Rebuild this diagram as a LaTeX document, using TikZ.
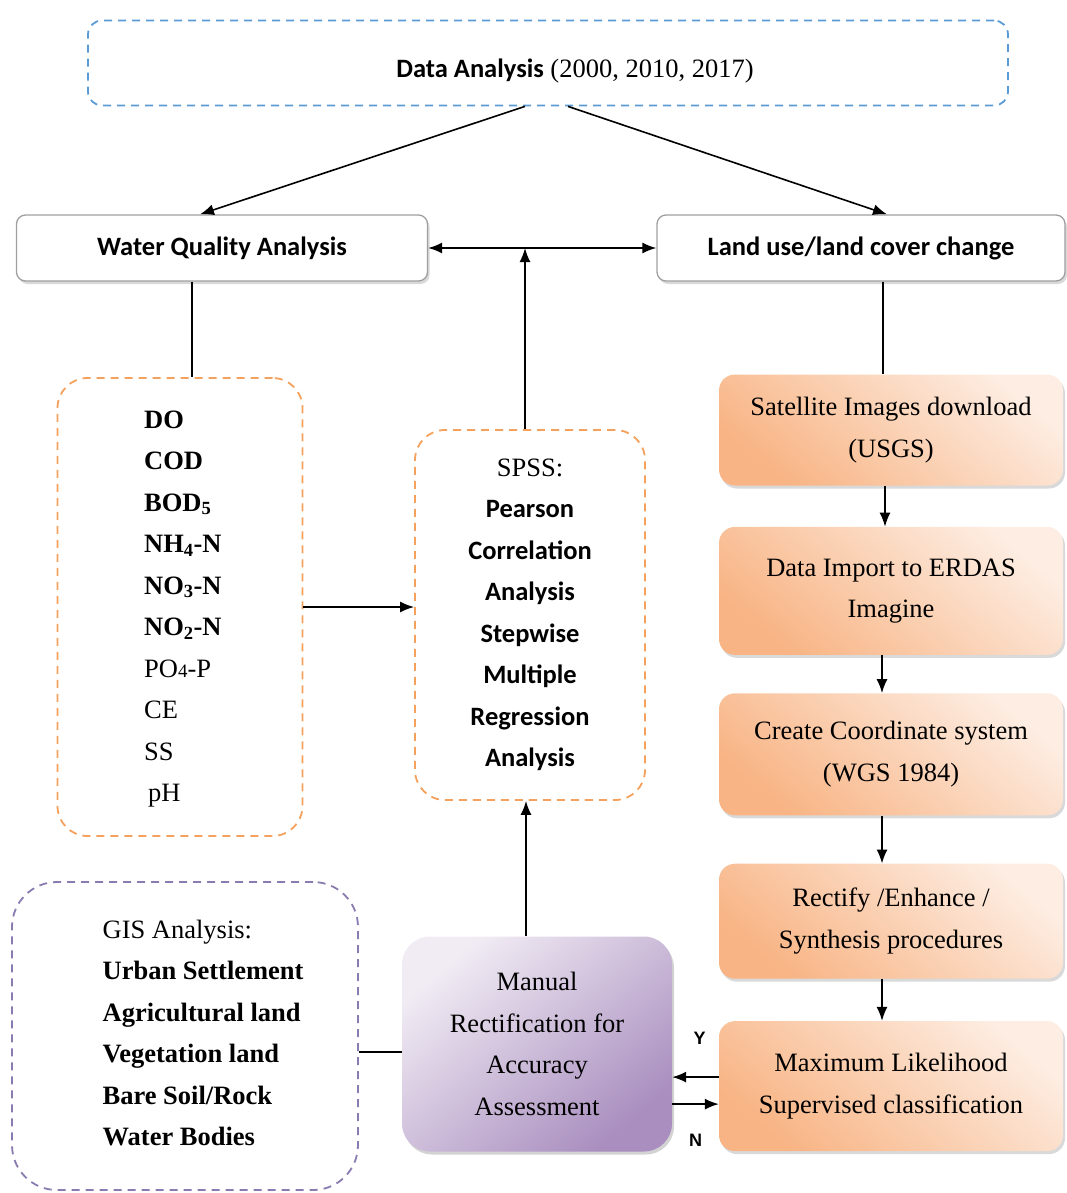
\documentclass[tikz,border=0pt]{standalone}
\usepackage{fontspec}
\setmainfont{Liberation Serif}
\newfontfamily\calibri{Carlito}
\newfontfamily\arialfont{Liberation Sans}
\usepackage{tikz}
\usetikzlibrary{arrows.meta, positioning, shadows}

\definecolor{dashblue}{HTML}{5B9BD5}
\definecolor{dashorange}{HTML}{F4A15D}
\definecolor{dashpurple}{HTML}{8A7BB0}
\definecolor{peachlight}{HTML}{FDEDE2}
\definecolor{peachdark}{HTML}{F8B484}
\definecolor{lilaclight}{HTML}{F1ECF4}
\definecolor{lilacdark}{HTML}{A98EBF}
\newcommand{\boxfont}{\fontsize{26.5}{41.5}\selectfont}

\begin{document}
\begin{tikzpicture}[x=1pt, y=-1pt, >={Latex[length=14pt, width=11pt]},
    line/.style={line width=1.6pt},
    dashbox/.style={draw, dash pattern=on 8pt off 6pt, line width=1.8pt, rounded corners=30pt},
    titlebox/.style={draw=gray!75, line width=1.3pt, rounded corners=9pt, fill=white,
        drop shadow={opacity=0.3, shadow xshift=2pt, shadow yshift=-3pt},
        minimum height=66pt, font=\calibri\bfseries\boxfont},
    stepbox/.style={rounded corners=16pt, top color=peachlight, bottom color=peachdark,
        shading angle=-40, drop shadow={opacity=0.3, shadow xshift=2pt, shadow yshift=-3pt},
        minimum width=344pt, align=center, font=\boxfont},
    checkbox/.style={rounded corners=28pt, top color=lilaclight, bottom color=lilacdark,
        shading angle=40, drop shadow={opacity=0.35, shadow xshift=2pt, shadow yshift=-3pt},
        align=center, font=\boxfont},
    yn/.style={font=\arialfont\bfseries\fontsize{18}{18}\selectfont}]

    \useasboundingbox (0,0) rectangle (1067,1193);

    % Nodes
    \node [dashbox, draw=dashblue, rounded corners=14pt, minimum width=920pt, minimum height=85pt,
        text height=30pt, text depth=0pt, font=\boxfont] (top) at (548,63)
        {\hspace*{54pt}{\calibri\bfseries Data Analysis} (2000, 2010, 2017)};
    \node [titlebox, minimum width=411pt] (wqa) at (222,248) {Water Quality Analysis};
    \node [titlebox, minimum width=408pt] (lulc) at (861,248) {Land use/land cover change};

    \node [dashbox, draw=dashorange, minimum width=245pt, minimum height=458pt] (wqbox) at (180,607) {};
    \node [anchor=west, align=left, font=\boxfont] (wqlist) at ([xshift=84pt, yshift=-2pt]wqbox.west)
        {\textbf{DO}\\ \textbf{COD}\\ \textbf{BOD\textsubscript{5}}\\ \textbf{NH\textsubscript{4}-N}\\
         \textbf{NO\textsubscript{3}-N}\\ \textbf{NO\textsubscript{2}-N}\\ PO{\fontsize{19}{19}\selectfont 4}-P\\
         CE\\ SS\\ \hspace*{4pt}pH};

    \node [dashbox, draw=dashorange, minimum width=230pt, minimum height=370pt, align=center,
        font=\calibri\bfseries\boxfont] (spss) at (530,615)
        {{\rmfamily\mdseries SPSS:}\\ Pearson\\ Correlation\\ Analysis\\ Stepwise\\ Multiple\\ Regression\\ Analysis};

    \node [stepbox, minimum height=111pt] (sat) at (891,430) {Satellite Images download\\(USGS)};
    \node [stepbox, minimum height=128pt, below=41pt of sat] (erdas) {Data Import to ERDAS\\Imagine};
    \node [stepbox, minimum height=122pt, below=38pt of erdas] (coord) {Create Coordinate system\\(WGS 1984)};
    \node [stepbox, minimum height=115pt, below=48pt of coord] (rectify) {Rectify /Enhance /\\Synthesis procedures};
    \node [stepbox, minimum height=130pt, below=42pt of rectify] (mlc) {Maximum Likelihood\\Supervised classification};

    \node [checkbox, minimum width=270pt, minimum height=215pt] (manual) at (537,1044)
        {Manual\\Rectification for\\Accuracy\\Assessment};

    \node [dashbox, draw=dashpurple, rounded corners=45pt, minimum width=346pt, minimum height=308pt] (gis) at (185,1036) {};
    \node [anchor=west, align=left, font=\boxfont] (gislist) at ([xshift=88pt, yshift=3pt]gis.west)
        {GIS Analysis:\\ \textbf{Urban Settlement}\\ \textbf{Agricultural land}\\ \textbf{Vegetation land}\\
         \textbf{Bare Soil/Rock}\\ \textbf{Water Bodies}};

    % Arrows
    \draw [->, line] ([xshift=-23pt]top.south) -- ([xshift=-22pt]wqa.north);
    \draw [->, line] ([xshift=20pt]top.south) -- ([xshift=26pt]lulc.north);
    \draw [<->, line] (wqa.east) -- (lulc.west);
    \draw [->, line] ([xshift=-5pt]spss.north) -- ([xshift=-5pt]spss.north |- wqa.east);

    \draw [line] ([xshift=-30pt]wqa.south) -- ([xshift=-30pt]wqa.south |- wqbox.north);
    \draw [->, line] (wqbox.east) -- (wqbox.east -| spss.west);
    \draw [->, line] ([xshift=-11pt]manual.north) -- ([xshift=-11pt]manual.north |- spss.south);
    \draw [line] ([yshift=-8pt]manual.west -| gis.east) -- ([yshift=-8pt]manual.west);

    \draw [line] ([xshift=22pt]lulc.south) -- ([xshift=22pt]lulc.south |- sat.north);
    \draw [->, line] ([xshift=-6pt]sat.south) -- ([xshift=-6pt]erdas.north);
    \draw [->, line] ([xshift=-9pt]erdas.south) -- ([xshift=-9pt]coord.north);
    \draw [->, line] ([xshift=-9pt]coord.south) -- ([xshift=-9pt]rectify.north);
    \draw [->, line] ([xshift=-9pt]rectify.south) -- ([xshift=-9pt]mlc.north);

    % Y / N loop
    \draw [->, line] ([yshift=9pt]mlc.west) -- node [yn, above=28pt, xshift=4pt] (ylab) {Y} ([yshift=9pt]mlc.west -| manual.east);
    \draw [->, line] ([yshift=-18pt]mlc.west -| manual.east) -- node [yn, below=26pt] (nlab) {N} ([yshift=-18pt]mlc.west);

\end{tikzpicture}
\end{document}
